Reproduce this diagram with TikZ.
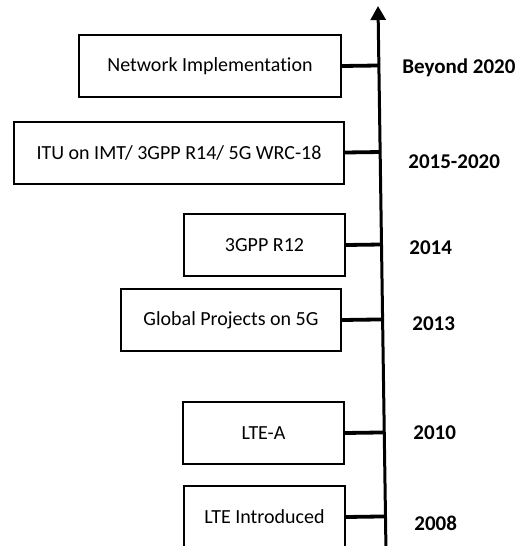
\documentclass[tikz,border=0pt]{standalone}
\usepackage{fontspec}
\setmainfont{Carlito}[Ligatures=NoCommon]
\usetikzlibrary{arrows.meta,calc}
\tikzset{
  >={Triangle[length=7pt,width=7.5pt]},
  every node/.style={font=\fontsize{10}{12}\selectfont},
  box/.style={draw,line width=1pt,minimum height=31pt,inner sep=0pt},
  yr/.style={anchor=west,inner sep=0pt,font=\fontsize{10.5}{12}\selectfont\bfseries},
  conn/.style={line width=1.9pt},
}

\begin{document}
\begin{tikzpicture}[x=0.5pt,y=-0.5pt]
  \useasboundingbox (0,0) rectangle (514,546);
  \clip (0,0) rectangle (514,546);
  % time axis
  \coordinate (axb) at (386,552);
  \coordinate (axt) at (378,6);
  \draw[->,line width=1.5pt] (axb) -- (axt);
  % milestones
  \node[box,minimum width=131pt] (impl) at (210,66) {Network Implementation};
  \node[box,minimum width=165pt] (itu) at (179,152.5) {ITU on IMT/ 3GPP R14/ 5G WRC-18};
  \node[box,minimum width=80.5pt] (rtw) at (264.5,245) {3GPP R12};
  \node[box,minimum width=110pt] (glob) at (231,320) {Global Projects on 5G};
  \node[box,minimum width=80.5pt] (ltea) at (263.5,433) {LTE-A};
  \node[box,minimum width=80.5pt] (lte) at (264.5,517) {LTE Introduced};
  \foreach \n in {impl,itu,rtw,glob,ltea,lte}
    \draw[conn] (\n.east) -- ($(axb)!(\n.east)!(axt)$);
  % years
  \node[yr] (ybeyond) at (402,68) {Beyond 2020};
  \node[yr] (y1520) at (408,162) {2015-2020};
  \node[yr] (y14) at (409,248) {2014};
  \node[yr] (y13) at (412,324) {2013};
  \node[yr] (y10) at (413,433) {2010};
  \node[yr] (y08) at (414,523) {2008};
\end{tikzpicture}
\end{document}
